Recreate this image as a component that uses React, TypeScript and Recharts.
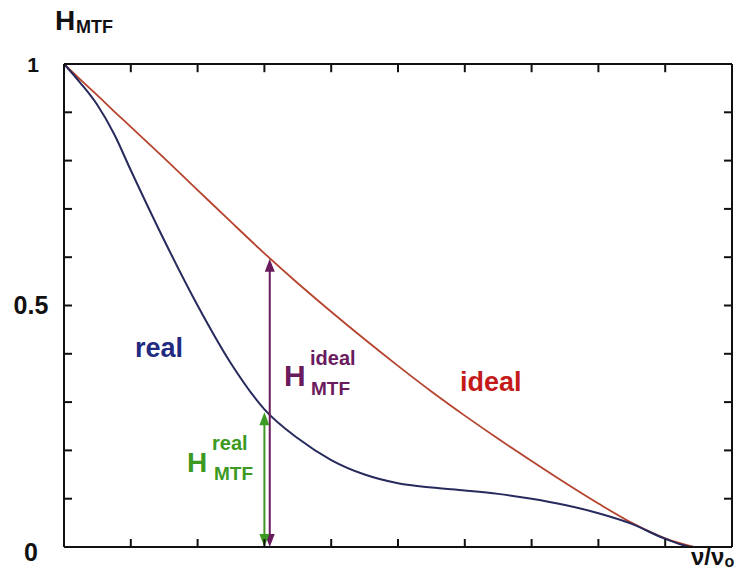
import { LineChart, Line, XAxis, YAxis, ReferenceLine } from "recharts";

// normalized frequency in tick units (10 divisions across the frame)
const freq = [0, 0.25, 0.5, 0.75, 1, 1.5, 2, 2.5, 3, 3.5, 4, 4.5, 5, 5.5, 6, 6.5, 7, 7.5, 8, 8.5, 9, 9.43, 10];
const idealMtf = [1, 0.967, 0.935, 0.902, 0.87, 0.805, 0.739, 0.673, 0.608, 0.546, 0.487, 0.43, 0.375, 0.322, 0.272, 0.224, 0.178, 0.133, 0.09, 0.05, 0.018, 0, null];
const realMtf = [1, 0.96, 0.915, 0.855, 0.78, 0.635, 0.5, 0.38, 0.285, 0.225, 0.18, 0.15, 0.132, 0.123, 0.117, 0.11, 0.1, 0.087, 0.07, 0.048, 0.017, 0, 0];

const xTicks = [0, 1, 2, 3, 4, 5, 6, 7, 8, 9, 10];
const yTicks = [0, 0.1, 0.2, 0.3, 0.4, 0.5, 0.6, 0.7, 0.8, 0.9, 1];
const yTickLabels = ["0", "0.5", "1"];

// where the two H_MTF arrows are drawn
const arrowFreqReal = 3.0;
const arrowRealTop = 0.279;
const arrowFreqIdeal = 3.08;
const arrowIdealTop = 0.597;

const data = freq.map((f, i) => ({ f, ideal: idealMtf[i], real: realMtf[i] }));

const W = 741;
const H = 572;
const MARGIN = { top: 64, right: 9, bottom: 25, left: 64 };

const FONT = '"Liberation Sans", Arial, Helvetica, sans-serif';
const NAVY = "#272a5c";
const RED = "#b5432d";
const PURPLE = "#6a1b5e";
const GREEN = "#3c9a22";
const AXIS = { stroke: "#111", strokeWidth: 2 };
const TICK_LEN = 8;

const xMax = xTicks[xTicks.length - 1];
const yMax = yTicks[yTicks.length - 1];
// tick length of the top / right frame ticks, in data units
const topTickLen = 0.017;
const rightTickLen = 0.12;

const NoLabel = () => <g />;

const YTick = (props: any) => {
  const { y, payload } = props;
  const label = String(payload.value);
  if (!yTickLabels.includes(label)) return <g />;
  const big = label !== "1";
  const dy = label === "0" ? 14 : 8;
  return (
    <text
      x={label === "1" ? 33 : 31}
      y={y + dy}
      textAnchor="middle"
      fontFamily={FONT}
      fontWeight="bold"
      fontSize={big ? 25 : 21}
      fill="#111"
    >
      {label}
    </text>
  );
};

const arrowShape = (color: string) => (props: any) => {
  const { x1, y1, x2, y2 } = props;
  const dx = x2 - x1;
  const dy = y2 - y1;
  const len = Math.hypot(dx, dy) || 1;
  const ux = dx / len;
  const uy = dy / len;
  const hl = 13;
  const hw = 5;
  const head = (tx: number, ty: number, a: number, b: number) =>
    `${tx},${ty} ${tx - a * hl - b * hw},${ty - b * hl + a * hw} ${tx - a * hl + b * hw},${ty - b * hl - a * hw}`;
  return (
    <g>
      <line
        x1={x1 + ux * hl * 0.7}
        y1={y1 + uy * hl * 0.7}
        x2={x2 - ux * hl * 0.7}
        y2={y2 - uy * hl * 0.7}
        stroke={color}
        strokeWidth={2}
      />
      <polygon points={head(x2, y2, ux, uy)} fill={color} />
      <polygon points={head(x1, y1, -ux, -uy)} fill={color} />
    </g>
  );
};

export default function App() {
  return (
    <div style={{ position: "absolute", left: 0, top: 0, width: W, height: H, background: "#fff" }}>
      <LineChart width={W} height={H} data={data} margin={MARGIN}>
        <XAxis
          dataKey="f"
          type="number"
          domain={[0, xMax]}
          ticks={xTicks}
          height={1}
          mirror
          tickSize={TICK_LEN}
          tick={NoLabel}
          axisLine={AXIS}
          tickLine={AXIS}
        />
        <XAxis
          xAxisId="top"
          orientation="top"
          type="number"
          domain={[0, xMax]}
          ticks={xTicks}
          height={1}
          mirror
          tick={NoLabel}
          tickLine={false}
          axisLine={AXIS}
        />
        <YAxis
          type="number"
          domain={[0, yMax]}
          ticks={yTicks}
          width={1}
          mirror
          tickSize={TICK_LEN}
          tick={YTick}
          axisLine={AXIS}
          tickLine={AXIS}
        />
        <YAxis
          yAxisId="right"
          orientation="right"
          type="number"
          domain={[0, yMax]}
          ticks={yTicks}
          width={1}
          mirror
          tick={NoLabel}
          tickLine={false}
          axisLine={AXIS}
        />
        {xTicks.slice(1, -1).map((t) => (
          <ReferenceLine
            key={`tt${t}`}
            segment={[
              { x: t, y: yMax },
              { x: t, y: yMax - topTickLen },
            ]}
            stroke="#111"
            strokeWidth={2}
          />
        ))}
        {yTicks.slice(1, -1).map((t) => (
          <ReferenceLine
            key={`rt${t}`}
            segment={[
              { x: xMax, y: t },
              { x: xMax - rightTickLen, y: t },
            ]}
            stroke="#111"
            strokeWidth={2}
          />
        ))}
        <Line
          type="monotone"
          dataKey="ideal"
          stroke={RED}
          strokeWidth={1.8}
          dot={false}
          activeDot={false}
          isAnimationActive={false}
        />
        <Line
          type="monotone"
          dataKey="real"
          stroke={NAVY}
          strokeWidth={2}
          dot={false}
          activeDot={false}
          isAnimationActive={false}
        />
        <ReferenceLine
          segment={[
            { x: arrowFreqIdeal, y: 0 },
            { x: arrowFreqIdeal, y: arrowIdealTop },
          ]}
          shape={arrowShape(PURPLE)}
        />
        <ReferenceLine
          segment={[
            { x: arrowFreqReal, y: 0 },
            { x: arrowFreqReal, y: arrowRealTop },
          ]}
          shape={arrowShape(GREEN)}
        />
      </LineChart>
      <svg
        width={W}
        height={H}
        style={{ position: "absolute", left: 0, top: 0, pointerEvents: "none" }}
        fontFamily={FONT}
        fontWeight="bold"
      >
        <text x={55} y={30} fontSize={28} fill="#111">H</text>
        <text x={76} y={33} fontSize={18} fill="#111">MTF</text>
        <text x={691} y={565} fontSize={24} fill="#111">
          ν/ν<tspan fontSize={16} dy={2}>o</tspan>
        </text>
        <text x={135} y={357} fontSize={27} fill="#1f2a80">real</text>
        <text x={460} y={391} fontSize={27} fill="#c41a1a">ideal</text>
        <text x={284} y={386} fontSize={30} fill={PURPLE}>H</text>
        <text x={310} y={365} fontSize={20} fill={PURPLE}>ideal</text>
        <text x={311} y={395} fontSize={19} fill={PURPLE}>MTF</text>
        <text x={187} y={472} fontSize={28} fill={GREEN}>H</text>
        <text x={212} y={450} fontSize={20} fill={GREEN}>real</text>
        <text x={214} y={480} fontSize={19} fill={GREEN}>MTF</text>
      </svg>
    </div>
  );
}
